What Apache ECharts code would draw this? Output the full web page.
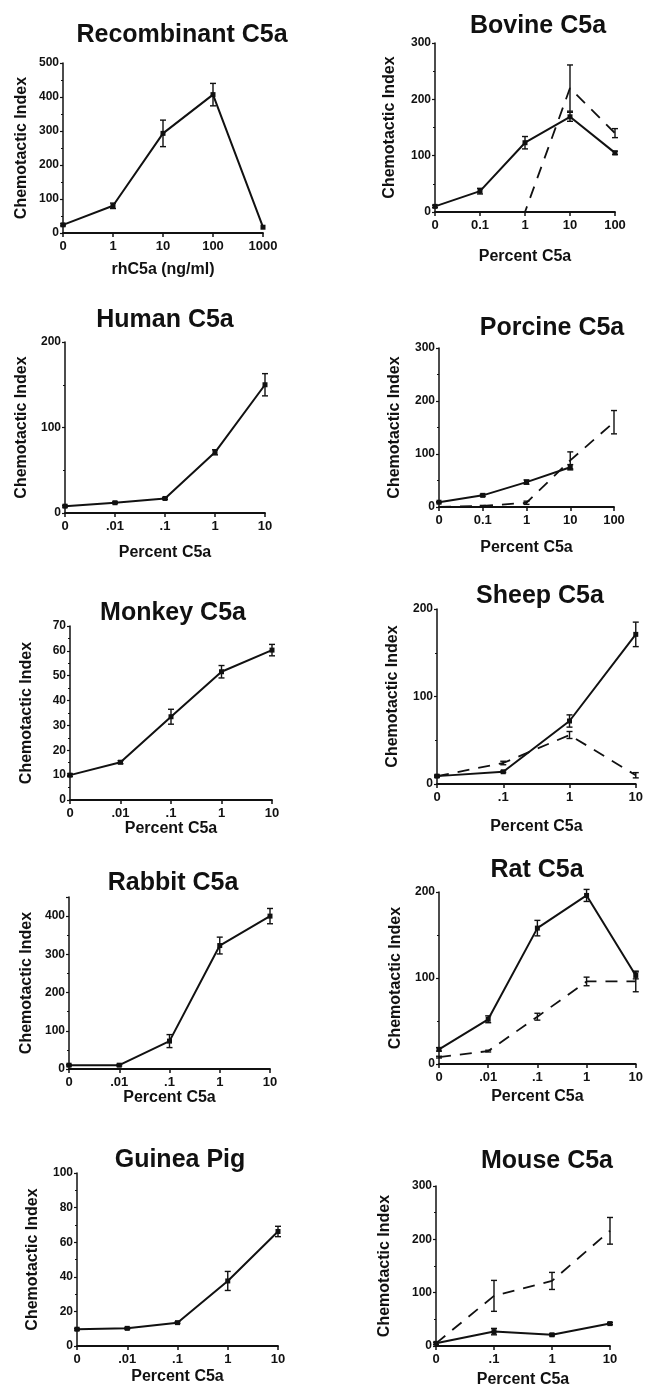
<!DOCTYPE html>
<html>
<head>
<meta charset="utf-8">
<script src="https://cdn.jsdelivr.net/npm/echarts@6/dist/echarts.min.js"></script>
<style>
  html, body { margin: 0; padding: 0; background: #fff; }
  #chart { width: 646px; height: 1389px; }
</style>
</head>
<body>
<div id="chart"></div>
<script>
// ---- data ----
var recombX = ['0', '1', '10', '100', '1000'];
var recombY = [24, 80, 293, 407, 17];
var recombErr = [3, 8, 39, 33, 0];

var bovineX = ['0', '0.1', '1', '10', '100'];
var bovineSolid = [10, 37, 123, 169, 105];
var bovineSolidErr = [2, 5, 11, 8, 3];
var bovineDash = [0, 0, 0, 220, 140];
var bovineDashErr = [0, 0, 0, 41, 8];

var humanX = ['0', '.01', '.1', '1', '10'];
var humanY = [8, 12, 17, 71, 150];
var humanErr = [1, 1, 1, 3, 13];

var porcineX = ['0', '0.1', '1', '10', '100'];
var porcineSolid = [9, 22, 47, 75, null];
var porcineSolidErr = [1, 2, 4, 5, 0];
var porcineDash = [0, 2, 8, 88, 160];
var porcineDashErr = [0, 1, 3, 16, 22];

var monkeyX = ['0', '.01', '.1', '1', '10'];
var monkeyY = [10, 15.2, 33.5, 51.6, 60.3];
var monkeyErr = [0.5, 0.6, 3, 2.5, 2.3];

var sheepX = ['0', '.1', '1', '10'];
var sheepSolid = [9, 14, 72, 171];
var sheepSolidErr = [1, 1, 7, 14];
var sheepDash = [9, 24, 56, 10];
var sheepDashErr = [1, 2, 4, 3];

var rabbitX = ['0', '.01', '.1', '1', '10'];
var rabbitY = [10, 10, 73, 323, 400];
var rabbitErr = [2, 2, 17, 22, 20];

var ratX = ['0', '.01', '.1', '1', '10'];
var ratSolid = [17, 52, 158, 196, 103];
var ratSolidErr = [2, 4, 9, 7, 4];
var ratDash = [8, 15, 55, 96, 96];
var ratDashErr = [1, 1, 4, 5, 12];

var guineaX = ['0', '.01', '.1', '1', '10'];
var guineaY = [9.7, 10.2, 13.5, 37.6, 66.2];
var guineaErr = [0.5, 0.5, 0.5, 5.5, 3];

var mouseX = ['0', '.1', '1', '10'];
var mouseSolid = [5, 27, 21, 42];
var mouseSolidErr = [2, 6, 2, 2];
var mouseDash = [5, 94, 122, 216];
var mouseDashErr = [0, 29, 16, 25];

// ---- panel layout ----
var panels = [
  { title: 'Recombinant C5a', tx: 177, ty: 18, grid: [63, 63, 200, 170], max: 500, step: 100,
    x: recombX, solid: recombY, solidErr: recombErr, xName: 'rhC5a (ng/ml)', xGap: 29, yGap: 33 },
  { title: 'Bovine C5a', tx: 533, ty: 9, grid: [435, 43, 180, 169], max: 300, step: 100,
    x: bovineX, solid: bovineSolid, solidErr: bovineSolidErr, dash: bovineDash, dashErr: bovineDashErr,
    xName: 'Percent C5a', xGap: 37, yGap: 37 },
  { title: 'Human C5a', tx: 160, ty: 303, grid: [65, 342, 200, 171], max: 200, step: 100,
    x: humanX, solid: humanY, solidErr: humanErr, xName: 'Percent C5a', xGap: 32, yGap: 35 },
  { title: 'Porcine C5a', tx: 547, ty: 311, grid: [439, 348, 175, 159], max: 300, step: 100,
    x: porcineX, solid: porcineSolid, solidErr: porcineSolidErr, dash: porcineDash, dashErr: porcineDashErr,
    xName: 'Percent C5a', xGap: 33, yGap: 36 },
  { title: 'Monkey C5a', tx: 168, ty: 596, grid: [70, 626, 202, 174], max: 70, step: 10,
    x: monkeyX, solid: monkeyY, solidErr: monkeyErr, xName: 'Percent C5a', xGap: 18, yGap: 35 },
  { title: 'Sheep C5a', tx: 535, ty: 579, grid: [437, 609, 200, 175], max: 200, step: 100,
    x: sheepX, solid: sheepSolid, solidErr: sheepSolidErr, dash: sheepDash, dashErr: sheepDashErr,
    xName: 'Percent C5a', xGap: 35, yGap: 36 },
  { title: 'Rabbit C5a', tx: 168, ty: 866, grid: [69, 897, 201, 172], max: 450, step: 100,
    x: rabbitX, solid: rabbitY, solidErr: rabbitErr, xName: 'Percent C5a', xGap: 16, yGap: 34 },
  { title: 'Rat C5a', tx: 532, ty: 853, grid: [439, 892, 201, 172], max: 200, step: 100,
    x: ratX, solid: ratSolid, solidErr: ratSolidErr, dash: ratDash, dashErr: ratDashErr,
    xName: 'Percent C5a', xGap: 25, yGap: 35 },
  { title: 'Guinea Pig', tx: 175, ty: 1143, grid: [77, 1173, 201, 173], max: 100, step: 20,
    x: guineaX, solid: guineaY, solidErr: guineaErr, xName: 'Percent C5a', xGap: 23, yGap: 36 },
  { title: 'Mouse C5a', tx: 542, ty: 1144, grid: [436, 1186, 174, 163], max: 300, step: 100,
    x: mouseX, solid: mouseSolid, solidErr: mouseSolidErr, dash: mouseDash, dashErr: mouseDashErr,
    xName: 'Percent C5a', xGap: 26, yGap: 43 }
];

var INK = '#111';
var FONT = 'Liberation Sans';

function errorBars(idx, vals, errs) {
  var data = [];
  vals.forEach(function (v, i) {
    if (v != null && errs[i]) data.push([i, v - errs[i], v + errs[i]]);
  });
  return {
    type: 'custom',
    xAxisIndex: idx,
    yAxisIndex: idx,
    silent: true,
    z: 5,
    data: data,
    encode: { x: 0, y: [1, 2] },
    renderItem: function (params, api) {
      var lo = api.coord([api.value(0), api.value(1)]);
      var hi = api.coord([api.value(0), api.value(2)]);
      var w = 3;
      var st = { stroke: INK, lineWidth: 1.4 };
      return {
        type: 'group',
        children: [
          { type: 'line', shape: { x1: lo[0], y1: lo[1], x2: hi[0], y2: hi[1] }, style: st },
          { type: 'line', shape: { x1: lo[0] - w, y1: lo[1], x2: lo[0] + w, y2: lo[1] }, style: st },
          { type: 'line', shape: { x1: hi[0] - w, y1: hi[1], x2: hi[0] + w, y2: hi[1] }, style: st }
        ]
      };
    }
  };
}

var titles = [], grids = [], xAxes = [], yAxes = [], series = [];

panels.forEach(function (p, i) {
  titles.push({
    text: p.title,
    left: p.tx,
    top: p.ty,
    textAlign: 'center',
    textStyle: { fontFamily: FONT, fontWeight: 'bold', fontSize: 25, color: INK }
  });
  grids.push({ left: p.grid[0], top: p.grid[1], width: p.grid[2], height: p.grid[3] });
  xAxes.push({
    type: 'category',
    gridIndex: i,
    data: p.x,
    boundaryGap: false,
    name: p.xName,
    nameLocation: 'middle',
    nameGap: p.xGap,
    nameTextStyle: { fontFamily: FONT, fontWeight: 'bold', fontSize: 16, color: INK },
    axisLine: { lineStyle: { color: INK, width: 1.8 } },
    axisTick: { length: 4, lineStyle: { color: INK, width: 1.5 } },
    axisLabel: { fontFamily: FONT, fontWeight: 'bold', fontSize: 13, color: INK, margin: 7 },
    splitLine: { show: false }
  });
  yAxes.push({
    type: 'value',
    gridIndex: i,
    min: 0,
    max: p.max,
    interval: p.step,
    name: 'Chemotactic Index',
    nameLocation: 'middle',
    nameRotate: 90,
    nameGap: p.yGap,
    nameTextStyle: { fontFamily: FONT, fontWeight: 'bold', fontSize: 16, color: INK },
    axisLine: { show: true, lineStyle: { color: INK, width: 1.5 } },
    axisTick: { show: true, length: 3, lineStyle: { color: INK, width: 1.2 } },
    minorTick: { show: true, splitNumber: 2, length: 2, lineStyle: { color: INK } },
    axisLabel: {
      fontFamily: FONT, fontWeight: 'bold', fontSize: 12, color: INK, margin: 4,
      formatter: function (v) { return v % p.step === 0 ? String(v) : ''; }
    },
    splitLine: { show: false }
  });
  series.push({
    type: 'line',
    xAxisIndex: i,
    yAxisIndex: i,
    data: p.solid,
    symbol: 'rect',
    symbolSize: 5,
    showSymbol: true,
    connectNulls: false,
    itemStyle: { color: INK },
    lineStyle: { color: INK, width: 2 },
    z: 4,
    silent: true
  });
  series.push(errorBars(i, p.solid, p.solidErr));
  if (p.dash) {
    series.push({
      type: 'line',
      xAxisIndex: i,
      yAxisIndex: i,
      data: p.dash,
      symbol: 'none',
      lineStyle: { color: INK, width: 1.8, type: [12, 9] },
      z: 3,
      silent: true
    });
    series.push(errorBars(i, p.dash, p.dashErr));
  }
});

var chart = echarts.init(document.getElementById('chart'), null, { renderer: 'canvas' });
chart.setOption({
  backgroundColor: '#ffffff',
  animation: false,
  title: titles,
  grid: grids,
  xAxis: xAxes,
  yAxis: yAxes,
  series: series
});
</script>
</body>
</html>
